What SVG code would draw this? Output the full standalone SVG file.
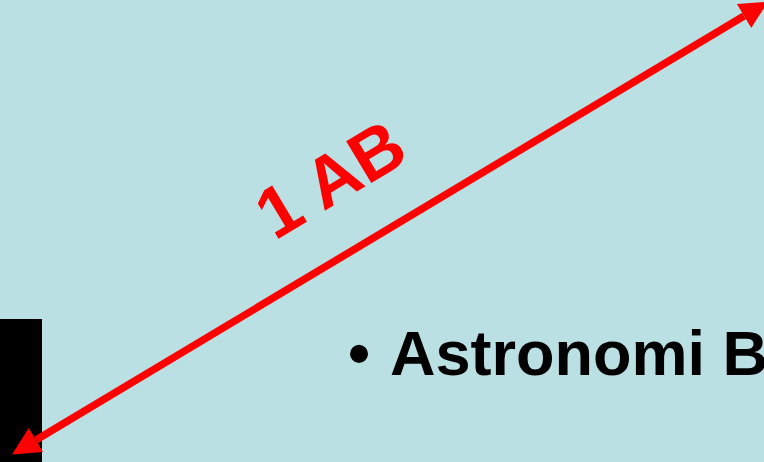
<svg xmlns="http://www.w3.org/2000/svg" width="764" height="462" viewBox="0 0 764 462">
<style>
.lbl{font-family:"Liberation Sans",Arial,sans-serif;font-weight:bold}
.red{fill:#FF0000}
</style>
<defs>
<marker id="ah" viewBox="0 0 28 28" markerWidth="28" markerHeight="28" refX="0" refY="14" orient="auto-start-reverse" markerUnits="userSpaceOnUse">
<path d="M0,0 L28,14 L0,28 z" fill="#FF0000"/>
</marker>
</defs>
<rect width="764" height="462" fill="#BAE0E3"/>
<g id="block"><rect x="0" y="319" width="42" height="143" fill="#000"/></g>
<g id="connectors">
<path d="M36,440 L744,16" stroke="#FF0000" stroke-width="7.5" fill="none" marker-start="url(#ah)" marker-end="url(#ah)"/>
</g>
<g id="label-1AB">
<text class="lbl red" x="343" y="200" font-size="71" text-anchor="middle" transform="rotate(-31 343 200)">1 AB</text>
</g>
<g id="bullet-text">
<text class="lbl" x="348" y="375" font-size="63">•</text>
<text class="lbl" x="390" y="375" font-size="63">Astronomi B</text>
</g>
</svg>
